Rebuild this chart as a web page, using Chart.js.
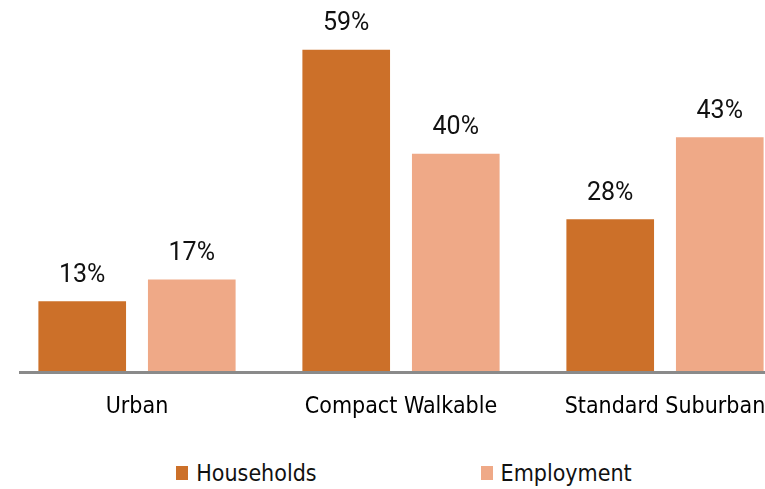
<!DOCTYPE html>
<html>
<head>
<meta charset="utf-8">
<script src="https://cdn.jsdelivr.net/npm/chart.js@4"></script>
<style>
  body { margin: 0; background: #fff; }
  #wrap { width: 765px; height: 489px; overflow: hidden; position: relative; }
  #box { width: 800px; height: 442px; position: absolute; left: 0; top: 0; }
  #legend { position: absolute; left: 4px; top: 460px; width: 800px; display: flex; justify-content: center;
    font-family: "DejaVu Sans Condensed", "DejaVu Sans", sans-serif; font-size: 23px; color: #111; }
  #legend span.item { display: flex; align-items: center; margin: 0 82px; }
  #legend span.sw { width: 12px; height: 14px; margin-right: 8px; display: inline-block; }
</style>
</head>
<body>
<div id="wrap">
  <div id="box"><canvas id="myChart"></canvas></div>
  <div id="legend"></div>
</div>
<script>
// Share of each place type, in percent
const categories = ['Urban', 'Compact Walkable', 'Standard Suburban'];
const households = [13, 59, 28];
const employment = [17, 40, 43];
const seriesNames = ['Households', 'Employment'];
const colors = ['#cc7029', '#efa987'];

// writes "13%" etc. above each bar
const valueLabels = {
  id: 'valueLabels',
  afterDatasetsDraw(chart) {
    const ctx = chart.ctx;
    ctx.save();
    ctx.font = '25px Roboto, sans-serif';
    ctx.fillStyle = '#111';
    ctx.textAlign = 'center';
    ctx.textBaseline = 'middle';
    chart.data.datasets.forEach((ds, i) => {
      chart.getDatasetMeta(i).data.forEach((bar, j) => {
        ctx.fillText(ds.data[j] + '%', bar.x, bar.y - 26);
      });
    });
    ctx.restore();
  }
};

// grey baseline under the bars
const baseline = {
  id: 'baseline',
  afterDatasetsDraw(chart) {
    const ctx = chart.ctx;
    const y = chart.scales.y.getPixelForValue(0);
    ctx.save();
    ctx.strokeStyle = '#8a8a8a';
    ctx.lineWidth = 3;
    ctx.beginPath();
    ctx.moveTo(chart.chartArea.left + 14, y);
    ctx.lineTo(chart.chartArea.right, y);
    ctx.stroke();
    ctx.restore();
  }
};

const ctx = document.getElementById('myChart').getContext('2d');
const chart = new Chart(ctx, {
  type: 'bar',
  data: {
    labels: categories,
    datasets: [
      { label: seriesNames[0], data: households, backgroundColor: colors[0] },
      { label: seriesNames[1], data: employment, backgroundColor: colors[1] }
    ]
  },
  options: {
    responsive: true,
    maintainAspectRatio: false,
    animation: false,
    layout: { padding: { left: 5, right: 3, top: 17, bottom: 0 } },
    datasets: {
      bar: { categoryPercentage: 0.83, barPercentage: 0.8 }
    },
    scales: {
      x: {
        grid: { display: false, drawTicks: false },
        border: { display: false },
        ticks: {
          padding: 21,
          color: '#000',
          font: { family: '"DejaVu Sans Condensed", "DejaVu Sans", sans-serif', size: 23 }
        }
      },
      y: {
        display: false,
        min: 0,
        max: 65
      }
    },
    plugins: {
      legend: { display: false },
      tooltip: { enabled: false }
    }
  },
  plugins: [valueLabels, baseline]
});

// legend below the chart
const legendEl = document.getElementById('legend');
seriesNames.forEach((name, i) => {
  const item = document.createElement('span');
  item.className = 'item';
  item.innerHTML = '<span class="sw" style="background:' + colors[i] + '"></span>' + name;
  legendEl.appendChild(item);
});
</script>
</body>
</html>
